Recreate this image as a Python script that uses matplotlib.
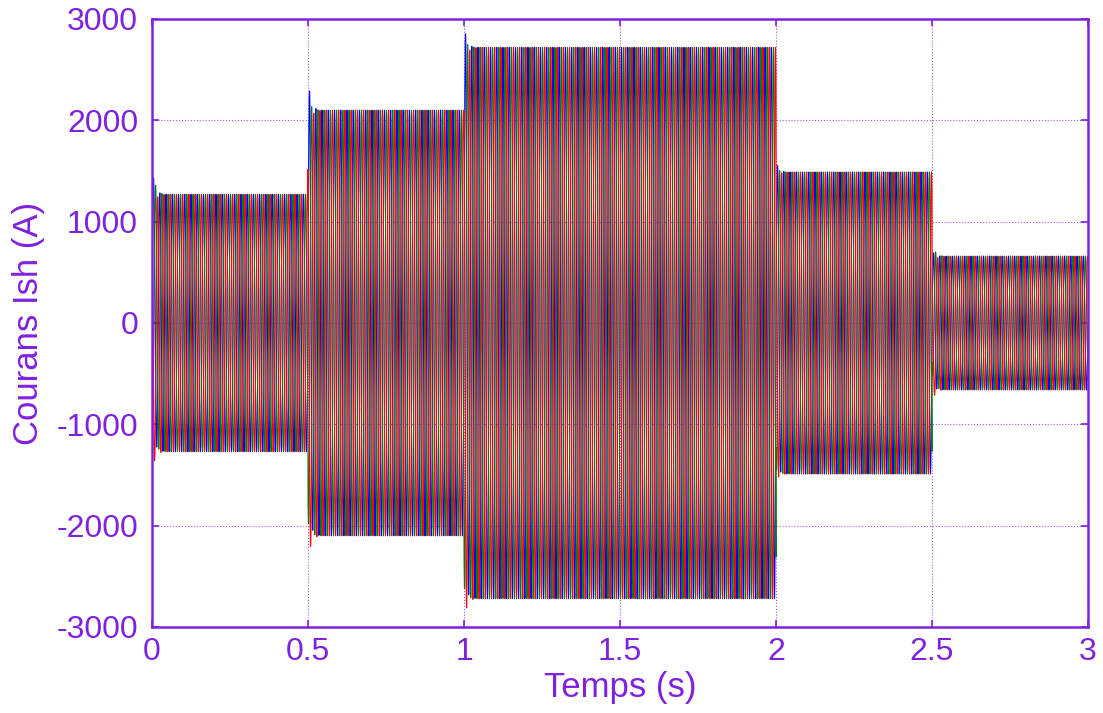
import numpy as np
import matplotlib.pyplot as plt

plt.rcParams['font.family'] = ['Liberation Sans', 'DejaVu Sans']
plt.rcParams['axes.unicode_minus'] = False

# waveform parameters
seg_start = [0.0, 0.5, 1.0, 2.0, 2.5]
seg_end = [0.5, 1.0, 2.0, 2.5, 3.0]
amplitude = [1270, 2100, 2720, 1490, 660]
freq = 50.0
phase_colors = ['b', 'g', 'r']
phase_shift = [0.0, -2 * np.pi / 3, 2 * np.pi / 3]
# decaying offset (A) added at each switching instant, per phase
offset_blue = [300, 350, 250, 120, 60]
offset_green = [380, 150, 120, 60, 180]
offset_red = [-250, -300, -260, -80, -150]
offsets = [offset_blue, offset_green, offset_red]
tau = 0.008

violet = '#7F22E0'
grid_col = '#9a5ae8'

t = np.arange(0, 3.0, 1 / 10000)

fig = plt.figure(figsize=(11.03, 7.13), dpi=100)
ax = fig.add_axes([152 / 1103, 1 - 627 / 713, (1088 - 152) / 1103, (627 - 19) / 713])

for k in range(3):
    i_ph = np.zeros_like(t)
    for s in range(len(seg_start)):
        m = (t >= seg_start[s]) & (t < seg_end[s])
        ts = t[m] - seg_start[s]
        i_ph[m] = (amplitude[s] * np.sin(2 * np.pi * freq * t[m] + phase_shift[k])
                   + offsets[k][s] * np.exp(-ts / tau))
    ax.plot(t, i_ph, color=phase_colors[k], linewidth=0.8)

ax.set_xlim(0, 3)
ax.set_ylim(-3000, 3000)
ax.set_xticks([0, 0.5, 1, 1.5, 2, 2.5, 3])
ax.set_xticklabels(['0', '0.5', '1', '1.5', '2', '2.5', '3'])
ax.set_yticks(range(-3000, 3001, 1000))
ax.grid(True, linestyle=':', color=grid_col, linewidth=0.8)
ax.tick_params(direction='in', length=5, width=1.2, colors=violet, labelsize=23,
               top=True, right=True)
ax.tick_params(axis='y', pad=10)
ax.tick_params(axis='x', pad=7)
for sp in ax.spines.values():
    sp.set_color(violet)
    sp.set_linewidth(1.8)

ax.set_xlabel('Temps (s)', fontsize=25, color=violet, labelpad=3)
ax.set_ylabel('Courans Ish (A)', fontsize=25, color=violet, labelpad=8)

fig.savefig('out.png', dpi=100)
